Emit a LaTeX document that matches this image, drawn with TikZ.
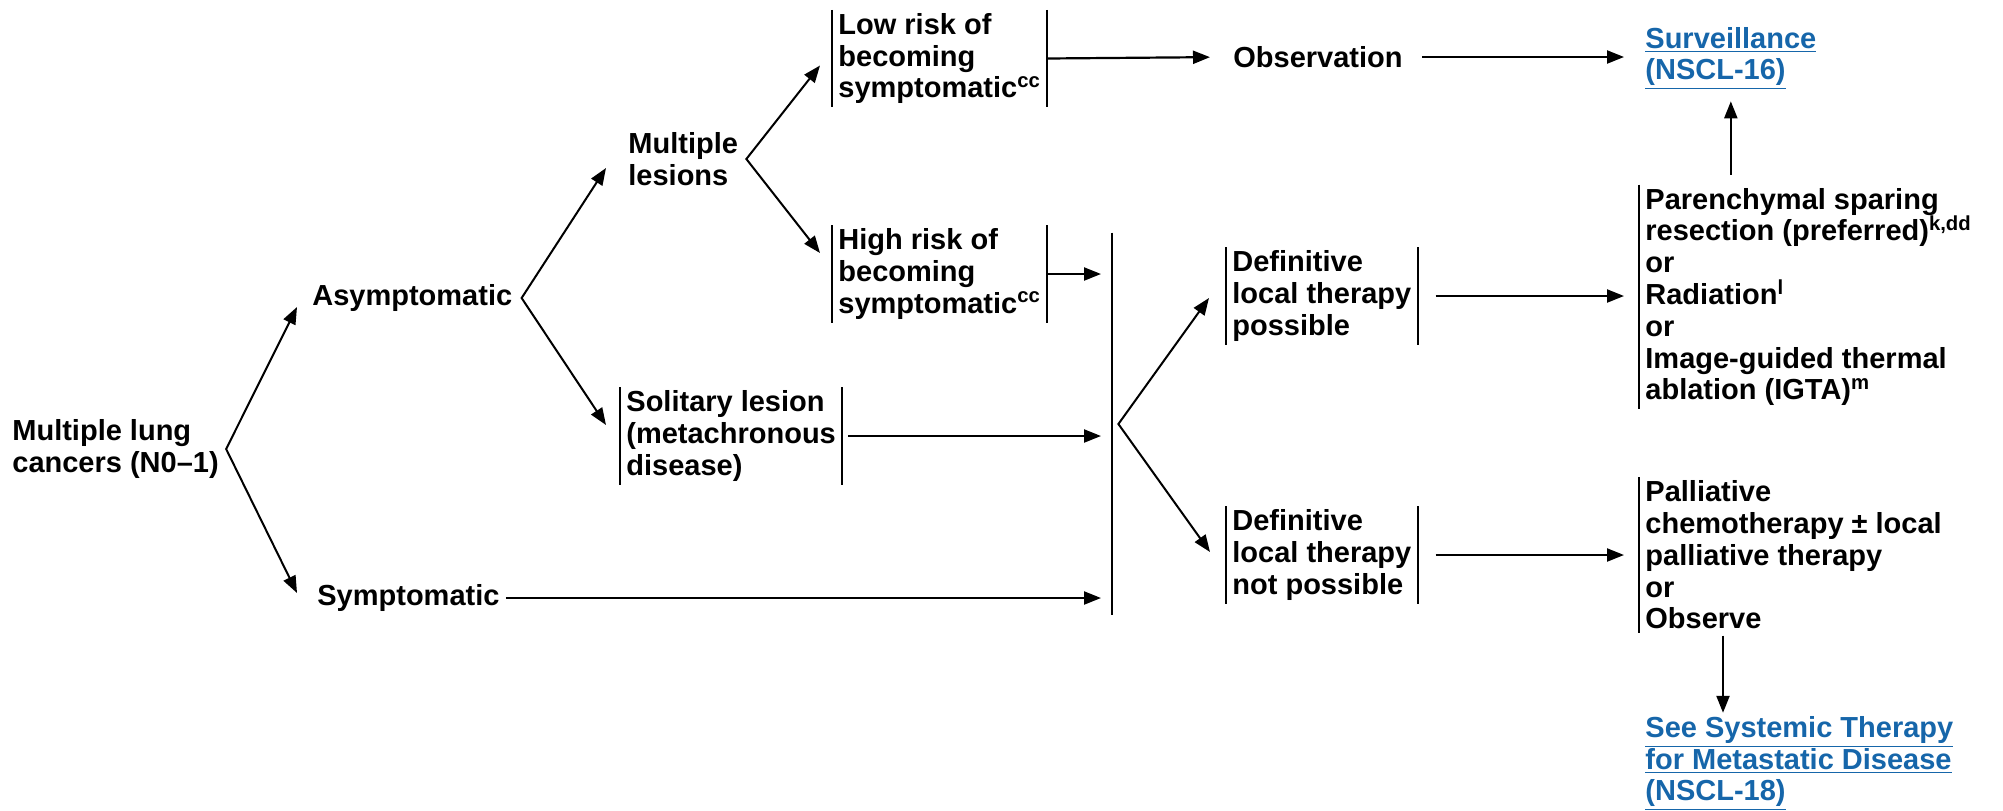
\documentclass[tikz,border=0pt]{standalone}
\usepackage{fontspec}
\setmainfont{Liberation Sans}
\usetikzlibrary{arrows.meta,calc}
\definecolor{linkblue}{RGB}{22,102,170}

\begin{document}
\begin{tikzpicture}[x=0.5pt,y=-0.5pt,
  every node/.style={font=\fontsize{14.5}{15.9}\selectfont\bfseries,align=left,inner xsep=3pt,inner ysep=1.5pt,anchor=west},
  line/.style={line width=1pt},
  arr/.style={line width=1.1pt,-{Triangle[length=8.5pt,width=6.5pt]}},
  fork/.style={line width=1pt,{Triangle[length=8.5pt,width=6.5pt]}-{Triangle[length=8.5pt,width=6.5pt]}},
  link/.style={text=linkblue}]
  \useasboundingbox (0,0) rectangle (2003,810);
  % first column
  \node (lung) at (6,449) {Multiple lung\\cancers (N0–1)};
  \node (asym) at (306,298) {Asymptomatic};
  \node (symp) at (311,598) {Symptomatic};
  % lesions
  \node (mult) at (622,159) {Multiple\\lesions};
  \node (sol) at (620,436) {Solitary lesion\\(metachronous\\disease)};
  \node (low) at (832,58.5) {Low risk of\\becoming\\symptomatic\textsuperscript{cc}};
  \node (high) at (832,274) {High risk of\\becoming\\symptomatic\textsuperscript{cc}};
  \node (obs) at (1227,57) {Observation};
  \node[link] (surv) at (1639,58.5) {\underline{Surveillance}\\\underline{(NSCL-16)}};
  % joining bar and therapy
  \node[minimum height=191pt,minimum width=0pt,inner sep=0pt] (join) at (1112,424) {};
  \node (dpos) at (1226,296) {Definitive\\local therapy\\possible};
  \node (dnot) at (1226,555) {Definitive\\local therapy\\not possible};
  \node (treat) at (1639,297) {Parenchymal sparing\\resection (preferred)\textsuperscript{k,dd}\\or\\Radiation\textsuperscript{l}\\or\\Image-guided thermal\\ablation (IGTA)\textsuperscript{m}};
  \node (pall) at (1639,555) {Palliative\\chemotherapy ± local\\palliative therapy\\or\\Observe};
  \node[link] (sys) at (1639,763.5) {\underline{See Systemic Therapy}\\\underline{for Metastatic Disease}\\\underline{(NSCL-18)}};

  % bars
  \foreach \n in {low,high,sol,dpos,dnot,treat,pall,join}
    \draw[line] (\n.north west) -- (\n.south west);
  \foreach \n in {low,high,sol,dpos,dnot}
    \draw[line] (\n.north east) -- (\n.south east);

  % forks
  \draw[fork] ([shift={(-9,9)}]asym.west) -- ([shift={(1,0)}]lung.east) -- ([shift={(-14,-5)}]symp.west);
  \draw[fork] ([shift={(-16,9)}]mult.west) -- ([shift={(3,0)}]asym.east) -- ([shift={(-14,-11)}]sol.west);
  \draw[fork] ([shift={(-12,7)}]low.west) -- ([shift={(2,0)}]mult.east) -- ([shift={(-12,-21)}]high.west);
  \draw[fork] ([shift={(-17,2)}]dpos.west) -- ([shift={(6,0)}]join.center) -- ([shift={(-16,-3)}]dnot.west);

  % straight arrows
  \draw[arr,shorten >=8.5pt] (low.east) -- (obs.west);
  \draw[arr,shorten <=6.5pt,shorten >=7.5pt] (obs.east) -- (obs.east -| surv.west);
  \draw[arr,shorten >=5.5pt] (high.east) -- (high.east -| join.west);
  \draw[arr,shorten <=3pt,shorten >=5.5pt] (sol.east) -- (sol.east -| join.west);
  \draw[arr,shorten >=5.5pt] (symp.east) -- (symp.east -| join.west);
  \draw[arr,shorten <=9pt,shorten >=7.5pt] (dpos.east) -- (dpos.east -| treat.west);
  \draw[arr,shorten <=9pt,shorten >=7.5pt] (dnot.east) -- (dnot.east -| pall.west);
  \draw[arr,shorten <=5pt,shorten >=4pt] (surv.south |- treat.north) -- (surv.south);
  \draw[arr,shorten <=1.5pt] ([shift={(84,0)}]pall.south west) -- ([shift={(84,0)}]pall.south west |- sys.north);
\end{tikzpicture}
\end{document}
